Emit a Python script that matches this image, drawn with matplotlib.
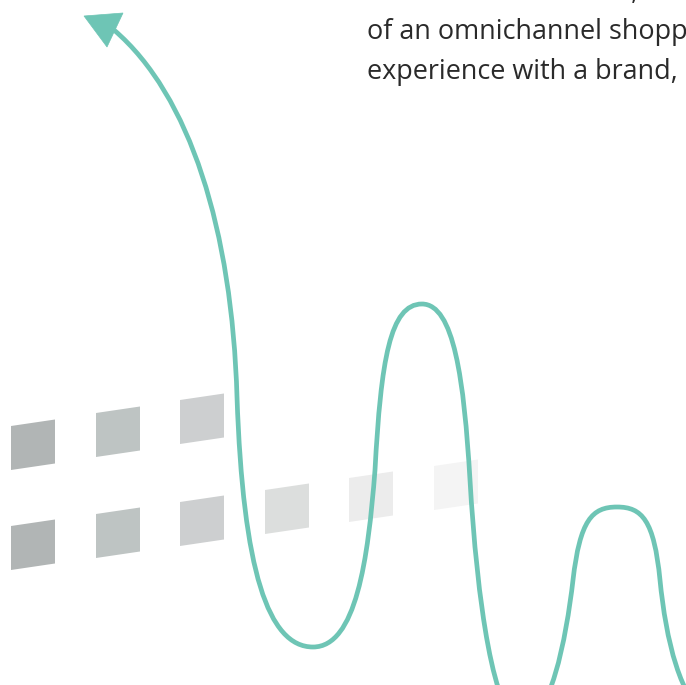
import matplotlib
matplotlib.use("Agg")
import matplotlib.pyplot as plt
from matplotlib.path import Path
from matplotlib.patches import PathPatch, Polygon

# ---- data (pixel space, y down) ----
text_lines = ["businesses. However, with the rise",
              "of an omnichannel shopping",
              "experience with a brand, shoppers"]
text_baselines = [-1, 39, 79]
text_x = 367
fit_text = "of an omnichannel shopp"
fit_width = 321

# squares: left x, top-left y, grey colour
row1_x = [11, 96, 180]
row1_y = [426, 413, 400]
row1_colors = ["#b1b5b5", "#bec4c3", "#cdcfd0"]
row2_x = [11, 96, 180, 265, 349, 434]
row2_y = [526, 514, 502, 490, 478, 466]
row2_colors = ["#b1b5b5", "#bec4c3", "#cdcfd0", "#dcdedd", "#ececec", "#f4f4f4"]
square_size = 44
square_skew = 6.5

# wave: start point then cubic segments (c1, c2, end)
wave_start = (114, 30)
wave_segments = [
    ((190, 95), (232, 230), (237, 397)),
    ((243, 570), (268, 647), (313, 647)),
    ((356, 647), (368, 560), (375, 470)),
    ((381, 360), (390, 304), (422, 304)),
    ((454, 304), (464, 380), (470, 480)),
    ((477, 600), (494, 722), (522, 722)),
    ((550, 722), (566, 640), (573, 580)),
    ((580, 520), (592, 507), (617, 507)),
    ((642, 507), (654, 520), (660, 580)),
    ((666, 640), (680, 700), (710, 720)),
]
arrow_head = [(84, 16), (123, 13), (107, 47)]
teal = "#6ec5b5"

fig = plt.figure(figsize=(6.86, 6.85), dpi=100)
ax = fig.add_axes([0, 0, 1, 1])
ax.set_xlim(0, 686)
ax.set_ylim(685, 0)
ax.axis("off")

def square(x, y, c):
    s, k = square_size, square_skew
    ax.add_patch(Polygon([(x, y), (x + s, y - k), (x + s, y - k + s), (x, y + s)],
                         closed=True, facecolor=c, edgecolor="none", zorder=1))

for x, y, c in zip(row1_x, row1_y, row1_colors):
    square(x, y, c)
for x, y, c in zip(row2_x, row2_y, row2_colors):
    square(x, y, c)

verts = [wave_start]
codes = [Path.MOVETO]
for c1, c2, e in wave_segments:
    verts += [c1, c2, e]
    codes += [Path.CURVE4] * 3
ax.add_patch(PathPatch(Path(verts, codes), facecolor="none", edgecolor=teal,
                       lw=3.4, capstyle="butt", zorder=3))
ax.add_patch(Polygon(arrow_head, closed=True, facecolor=teal, edgecolor=teal,
                     lw=0.5, zorder=4))

# fit font size to the measured width of the second line
renderer = fig.canvas.get_renderer()
probe = ax.text(0, 0, fit_text, fontsize=17, family="Open Sans")
w = probe.get_window_extent(renderer).width
probe.remove()
fs = 17 * fit_width / w

for t, yb in zip(text_lines, text_baselines):
    ax.text(text_x, yb, t, fontsize=fs, family="Open Sans", color="#2a2a2a",
            ha="left", va="baseline", zorder=5, clip_on=False)

fig.savefig("out.png", dpi=100)
